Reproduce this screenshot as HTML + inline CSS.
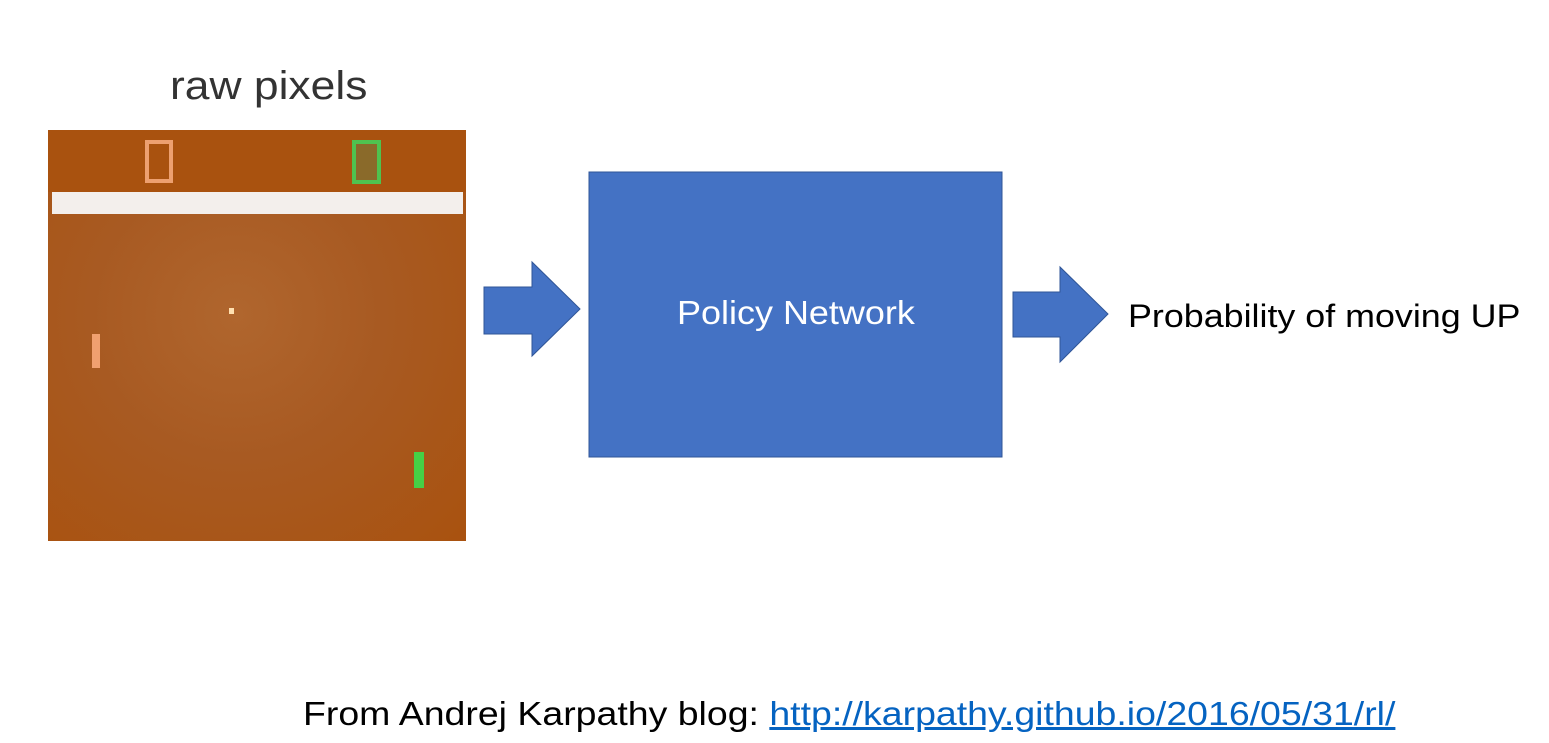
<!DOCTYPE html>
<html><head><meta charset="utf-8"><style>
body{margin:0;width:1549px;height:743px;background:#fff;position:relative;overflow:hidden;font-family:"Liberation Sans",sans-serif}
.a{position:absolute;white-space:nowrap}
</style></head><body>
<div class="a" style="left:170px;top:64px;font-size:40px;color:#333;transform:scaleX(1.11);transform-origin:left">raw pixels</div>
<div class="a" style="left:48px;top:130px;width:418px;height:411px;background:radial-gradient(ellipse at 45% 45%,#b0662e 0%,#a85a22 45%,#a9520f 100%)"></div>
<div class="a" style="left:48px;top:130px;width:418px;height:62px;background:#a9520f"></div>
<div class="a" style="left:52px;top:192px;width:411px;height:22px;background:#f3efec"></div>
<div class="a" style="left:145px;top:140px;width:20px;height:35px;border:4px solid #eda070"></div>
<div class="a" style="left:352px;top:140px;width:21px;height:36px;border:4px solid #4fc24f;background:#8a6a2a"></div>
<div class="a" style="left:229px;top:308px;width:5px;height:6px;background:#ffe0b0"></div>
<div class="a" style="left:92px;top:334px;width:8px;height:34px;background:#f0a070"></div>
<div class="a" style="left:414px;top:452px;width:10px;height:36px;background:#46d046"></div>
<svg class="a" style="left:0;top:0" width="1549" height="743">
<polygon points="484,287 532,287 532,262 580,309 532,356 532,334 484,334" fill="#4472c4" stroke="#2f5597" stroke-width="1"/>
<polygon points="1013,292 1060,292 1060,267 1108,314 1060,362 1060,337 1013,337" fill="#4472c4" stroke="#2f5597" stroke-width="1"/>
<rect x="589" y="172" width="413" height="285" fill="#4472c4" stroke="#2f5597" stroke-width="1"/>
</svg>
<div class="a" style="left:677px;top:294px;font-size:33px;color:#fff;transform:scaleX(1.09);transform-origin:left">Policy Network</div>
<div class="a" style="left:1128px;top:298px;font-size:32px;color:#000;transform:scaleX(1.12);transform-origin:left">Probability of moving UP</div>
<div class="a" style="left:303px;top:695px;font-size:33px;color:#000;transform:scaleX(1.135);transform-origin:left">From Andrej Karpathy blog: <span style="color:#0563c1;text-decoration:underline">http://karpathy.github.io/2016/05/31/rl/</span></div>
</body></html>
